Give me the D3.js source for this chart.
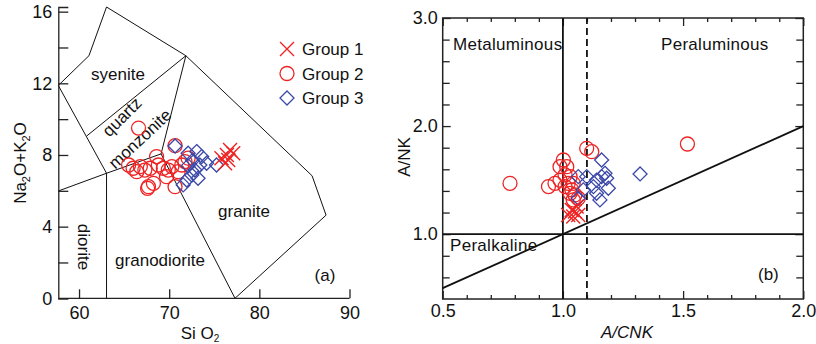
<!DOCTYPE html>
<html>
<head>
<meta charset="utf-8">
<script src="https://cdn.jsdelivr.net/npm/d3@7"></script>
<style>
  body { margin: 0; background: #fff; }
  text { font-family: "Liberation Sans", Arial, sans-serif; fill: #111; }
</style>
</head>
<body>
<div id="chart"></div>
<script>
// ---- panel (a): TAS diagram ----
const tasG1 = [[75.8, 7.82], [76.4, 8.0], [76.75, 8.28], [76.2, 7.54], [76.55, 7.72], [77.1, 8.1]]
const tasG2 = [
  [66.6, 9.5], [70.65, 8.52], [65.5, 7.44], [66.0, 7.26], [66.4, 7.07], [66.8, 7.35],
  [67.3, 7.16], [67.9, 7.26], [68.6, 7.91], [68.8, 7.44], [68.25, 6.42], [67.7, 6.23],
  [67.6, 6.14], [69.35, 7.26], [69.9, 7.16], [70.3, 7.35], [70.65, 6.23], [71.0, 7.07],
  [71.75, 7.63], [72.1, 7.82], [71.4, 7.44], [69.7, 6.79]
]
const tasG3 = [
  [70.65, 8.5], [72.1, 8.1], [73.05, 8.19], [73.6, 7.91], [74.15, 7.54], [73.4, 7.44],
  [72.85, 7.16], [72.5, 6.88], [71.95, 6.6], [71.55, 6.33], [75.25, 7.44], [72.1, 7.39],
  [72.6, 7.7], [73.2, 6.7]
]
// field boundaries [SiO2, Na2O+K2O]
const tasLines = [
  [[57.7, 11.88], [61.1, 13.54], [63.05, 16.26], [71.85, 13.54], [85.85, 6.84], [87.4, 4.64], [77.3, 0]],
  [[60.85, 9.06], [71.85, 13.54], [69.1, 8.06], [77.3, 0]],
  [[57.7, 11.88], [63.05, 6.98], [69.1, 8.06]],
  [[57.7, 5.99], [63.05, 6.98], [63.05, 0]]
]
const tasTicksX = [60, 70, 80, 90]
const tasTicksY = [0, 2, 4, 6, 8, 10, 12, 14, 16]
const tasLabelY = [0, 4, 8, 12, 16]

// ---- panel (b): A/NK vs A/CNK ----
const acnkG1 = [[1.022, 1.178], [1.037, 1.224], [1.05, 1.209], [1.057, 1.255], [1.043, 1.163], [1.064, 1.178]]
const acnkG2 = [
  [0.78, 1.47], [0.94, 1.44], [0.967, 1.47], [0.988, 1.5], [1.002, 1.686], [0.988, 1.624],
  [1.016, 1.624], [1.009, 1.548], [1.03, 1.532], [1.022, 1.47], [1.043, 1.47], [1.009, 1.44],
  [1.037, 1.41], [1.05, 1.363], [1.03, 1.378], [1.043, 1.317], [1.064, 1.332],
  [1.099, 1.794], [1.12, 1.763], [1.518, 1.834]
]
const acnkG3 = [
  [1.161, 1.686], [1.064, 1.532], [1.099, 1.532], [1.14, 1.5], [1.161, 1.532], [1.175, 1.563],
  [1.182, 1.517], [1.127, 1.44], [1.085, 1.41], [1.064, 1.332], [1.14, 1.378], [1.189, 1.425],
  [1.154, 1.317], [1.321, 1.557]
]
const acnkMajorX = [0.5, 1.0, 1.5, 2.0]
const acnkMajorY = [1.0, 2.0, 3.0]
const acnkMinorX = [0.6, 0.7, 0.8, 0.9, 1.1, 1.2, 1.3, 1.4, 1.6, 1.7, 1.8, 1.9]
const acnkMinorY = [0.6, 0.8, 1.2, 1.4, 1.6, 1.8, 2.2, 2.4, 2.6, 2.8]

const groups = ['Group 1', 'Group 2', 'Group 3']
const red = '#ee2424', blue = '#3b48a8'

const svg = d3.select('#chart').append('svg').attr('width', 816).attr('height', 344)

// marker drawing
function marker(g, kind, x, y) {
  const s = 7
  if (kind === 0) {
    g.append('path')
      .attr('d', `M${x - s},${y - s}L${x + s},${y + s}M${x - s},${y + s}L${x + s},${y - s}`)
      .attr('stroke', red).attr('stroke-width', 1.4).attr('fill', 'none')
  } else if (kind === 1) {
    g.append('circle').attr('cx', x).attr('cy', y).attr('r', s)
      .attr('stroke', red).attr('stroke-width', 1.3).attr('fill', 'none')
  } else {
    g.append('path')
      .attr('d', `M${x},${y - s}L${x + s},${y}L${x},${y + s}L${x - s},${y}Z`)
      .attr('stroke', blue).attr('stroke-width', 1.3).attr('fill', 'none')
  }
}

// ================= panel (a) =================
const xa = d3.scaleLinear().domain([57.7, 90]).range([58.3, 349.5])
const ya = d3.scaleLinear().domain([0, 16.26]).range([298.3, 7])
const ga = svg.append('g')

const line = d3.line().x(d => xa(d[0])).y(d => ya(d[1]))
tasLines.forEach(l => {
  ga.append('path').attr('d', line(l)).attr('fill', 'none').attr('stroke', '#111').attr('stroke-width', 1)
})

// axes
ga.append('g').attr('transform', 'translate(0,' + ya(0) + ')')
  .call(d3.axisBottom(xa).tickValues(tasTicksX).tickSize(-9).tickPadding(8).tickFormat(d3.format('d')))
  .call(a => a.select('.domain').attr('d', `M${xa.range()[0]},0H${xa(90)}`))
ga.append('g').attr('transform', 'translate(' + xa(57.7) + ',0)')
  .call(d3.axisLeft(ya).tickValues(tasTicksY).tickSize(-10).tickPadding(6)
    .tickFormat(d => tasLabelY.includes(d) ? d : ''))
ga.selectAll('.tick text').attr('font-size', 18).attr('fill', '#111')
  .style('font-family', '"Liberation Sans", Arial, sans-serif')
ga.selectAll('.domain, .tick line').attr('stroke', '#222').attr('stroke-width', 1.3)

// field names
const fieldText = (txt, x, y, rot) => {
  const t = ga.append('text').attr('text-anchor', 'middle').attr('font-size', 17)
    .attr('transform', `translate(${x},${y})rotate(${rot || 0})`).text(txt)
  return t
}
fieldText('syenite', 118, 80)
fieldText('quartz', 126, 121, -45)
fieldText('monzonite', 144, 143, -43)
fieldText('granite', 244, 217)
fieldText('granodiorite', 160, 266)
fieldText('diorite', 78, 247, 90)
fieldText('(a)', 325, 281)

// axis titles
const ta = ga.append('text').attr('text-anchor', 'middle').attr('font-size', 17)
  .attr('transform', 'translate(26,163)rotate(-90)')
ta.append('tspan').text('Na')
ta.append('tspan').text('2').attr('font-size', 11).attr('dy', 4)
ta.append('tspan').text('O+K').attr('dy', -4)
ta.append('tspan').text('2').attr('font-size', 11).attr('dy', 4)
ta.append('tspan').text('O').attr('dy', -4)
const tx = ga.append('text').attr('text-anchor', 'middle').attr('font-size', 17)
  .attr('x', 200).attr('y', 339)
tx.append('tspan').text('Si O')
tx.append('tspan').text('2').attr('font-size', 10).attr('dy', 3)

// points
tasG2.forEach(d => marker(ga, 1, xa(d[0]), ya(d[1])))
tasG3.forEach(d => marker(ga, 2, xa(d[0]), ya(d[1])))
tasG1.forEach(d => marker(ga, 0, xa(d[0]), ya(d[1])))

// legend
groups.forEach((name, i) => {
  const y = 49 + i * 24.5
  marker(ga, i, 287, y)
  ga.append('text').attr('x', 302).attr('y', y + 6).attr('font-size', 17).text(name)
})

// ================= panel (b) =================
const xb = d3.scaleLinear().domain([0.5, 2.0]).range([442.7, 803.3])
const yb = d3.scaleLinear().domain([0.4, 3.0]).range([299, 18])
const gb = svg.append('g')

gb.append('rect').attr('x', xb(0.5)).attr('y', yb(3.0))
  .attr('width', xb(2.0) - xb(0.5)).attr('height', yb(0.4) - yb(3.0))
  .attr('fill', 'none').attr('stroke', '#222').attr('stroke-width', 1.5)

const fmt = d3.format('.1f')
const axB = (axis, tr, vals, size, labels) => {
  const g = gb.append('g').attr('transform', tr)
    .call(axis.tickValues(vals).tickSize(size).tickPadding(5).tickFormat(labels ? fmt : ''))
  g.select('.domain').remove()
  return g
}
axB(d3.axisBottom(xb), `translate(0,${yb(0.4)})`, acnkMajorX, -8, true)
axB(d3.axisBottom(xb), `translate(0,${yb(0.4)})`, acnkMinorX, -4, false)
axB(d3.axisTop(xb), `translate(0,${yb(3.0)})`, acnkMajorX, -8, false)
axB(d3.axisTop(xb), `translate(0,${yb(3.0)})`, acnkMinorX, -4, false)
axB(d3.axisLeft(yb), `translate(${xb(0.5)},0)`, acnkMajorY, -8, true)
axB(d3.axisLeft(yb), `translate(${xb(0.5)},0)`, acnkMinorY, -7, false)
axB(d3.axisRight(yb), `translate(${xb(2.0)},0)`, acnkMajorY, -8, false)
axB(d3.axisRight(yb), `translate(${xb(2.0)},0)`, acnkMinorY, -7, false)
gb.selectAll('.tick line').attr('stroke', '#222').attr('stroke-width', 1.3)
gb.selectAll('.tick text').attr('font-size', 18).attr('fill', '#222')
  .style('font-family', '"Liberation Sans", Arial, sans-serif')

// reference lines
const refLine = (x1, y1, x2, y2, dash) => gb.append('line')
  .attr('x1', xb(x1)).attr('y1', yb(y1)).attr('x2', xb(x2)).attr('y2', yb(y2))
  .attr('stroke', '#111').attr('stroke-width', 1.8).attr('stroke-dasharray', dash || null)
refLine(1.0, 0.4, 1.0, 3.0)
refLine(1.1, 0.4, 1.1, 3.0, '7,4')
refLine(0.5, 1.0, 2.0, 1.0)
refLine(0.5, 0.5, 2.0, 2.0)

gb.append('text').attr('x', 453).attr('y', 50).attr('font-size', 17).attr('letter-spacing', 0.3).text('Metaluminous')
gb.append('text').attr('x', 661).attr('y', 50).attr('font-size', 17).attr('letter-spacing', 0.3).text('Peraluminous')
gb.append('text').attr('x', 450).attr('y', 251).attr('font-size', 17).attr('letter-spacing', 0.3).text('Peralkaline')
gb.append('text').attr('x', 758).attr('y', 280).attr('font-size', 17).text('(b)')
gb.append('text').attr('text-anchor', 'middle').attr('font-size', 17)
  .attr('transform', 'translate(410,157)rotate(-90)').text('A/NK')
gb.append('text').attr('text-anchor', 'middle').attr('font-size', 17).attr('font-style', 'italic')
  .attr('x', 627).attr('y', 338).text('A/CNK')

acnkG2.forEach(d => marker(gb, 1, xb(d[0]), yb(d[1])))
acnkG3.forEach(d => marker(gb, 2, xb(d[0]), yb(d[1])))
acnkG1.forEach(d => marker(gb, 0, xb(d[0]), yb(d[1])))
</script>
</body>
</html>
